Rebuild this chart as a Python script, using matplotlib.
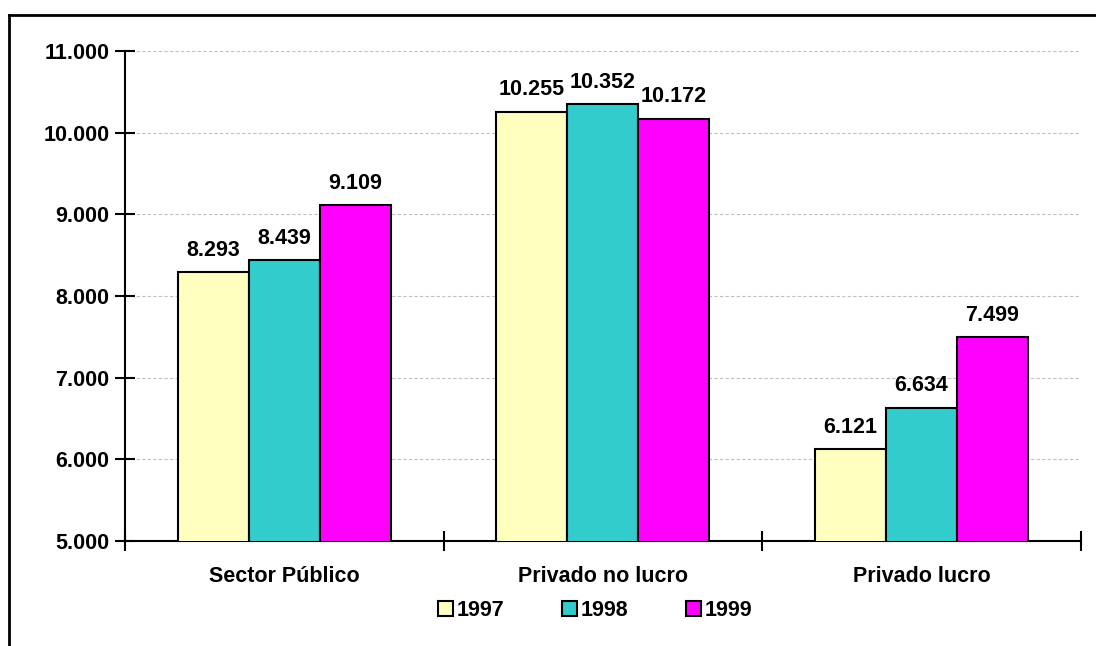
import matplotlib
matplotlib.use("Agg")
from matplotlib import pyplot as plt
from matplotlib.lines import Line2D
import numpy as np

plt.rcParams["font.family"] = ["Liberation Sans", "DejaVu Sans"]
plt.rcParams["font.weight"] = "bold"

categories = ["Sector Público", "Privado no lucro", "Privado lucro"]
years = ["1997", "1998", "1999"]
values_1997 = [8293, 10255, 6121]
values_1998 = [8439, 10352, 6634]
values_1999 = [9109, 10172, 7499]
colors = ["#FFFFC0", "#33CCCC", "#FF00FF"]
FS = 15.5


def fmt(v):
    return f"{v:,}".replace(",", ".")


fig = plt.figure(figsize=(10.96, 6.46), dpi=100)
ax = fig.add_axes([0.114, 0.1625, 0.872, 0.7585])

x = np.arange(len(categories))
width = 0.223
series = [values_1997, values_1998, values_1999]
for i, (vals, col, yr) in enumerate(zip(series, colors, years)):
    bars = ax.bar(x + (i - 1) * width, vals, width, color=col, edgecolor="black",
                  linewidth=1.5, label=yr, zorder=3)
    # value labels on top of bars
    for bar in bars:
        h = bar.get_height()
        ax.text(bar.get_x() + bar.get_width() / 2.0, h + 140, fmt(int(h)),
                ha="center", va="bottom", fontsize=FS, fontweight="bold")

ax.set_xlim(-0.5, 2.5)
ax.set_ylim(5000, 11000)
ax.set_yticks(range(5000, 11001, 1000))
ax.set_yticklabels([fmt(v) for v in range(5000, 11001, 1000)])
ax.yaxis.grid(True, color="#C0C0C0", linestyle=(0, (3, 2)), linewidth=0.8, zorder=0)

# category labels between boundary ticks
ax.set_xticks([-0.5, 0.5, 1.5, 2.5])
ax.set_xticklabels([])
ax.set_xticks(x, minor=True)
ax.set_xticklabels(categories, minor=True)
ax.tick_params(axis="x", which="minor", length=0, pad=18, labelsize=FS)
ax.tick_params(axis="x", which="major", direction="inout", length=14, width=1.5)
ax.tick_params(axis="y", direction="inout", length=14, width=1.5, labelsize=FS, pad=4)

for side in ["top", "right"]:
    ax.spines[side].set_visible(False)
for side in ["left", "bottom"]:
    ax.spines[side].set_linewidth(1.5)

ax.legend(loc="center", bbox_to_anchor=(0.492, -0.141), ncol=3, frameon=False,
          fontsize=FS, handlelength=0.7, handleheight=0.7, handletextpad=0.15,
          columnspacing=2.7, borderpad=0)

# outer frame (top and left only visible)
fig.add_artist(Line2D([9 / 1096, 1.0], [1 - 15 / 646, 1 - 15 / 646],
                      transform=fig.transFigure, color="black", linewidth=2))
fig.add_artist(Line2D([9 / 1096, 9 / 1096], [0, 1 - 15 / 646],
                      transform=fig.transFigure, color="black", linewidth=2))

fig.savefig("out.png", dpi=100)
